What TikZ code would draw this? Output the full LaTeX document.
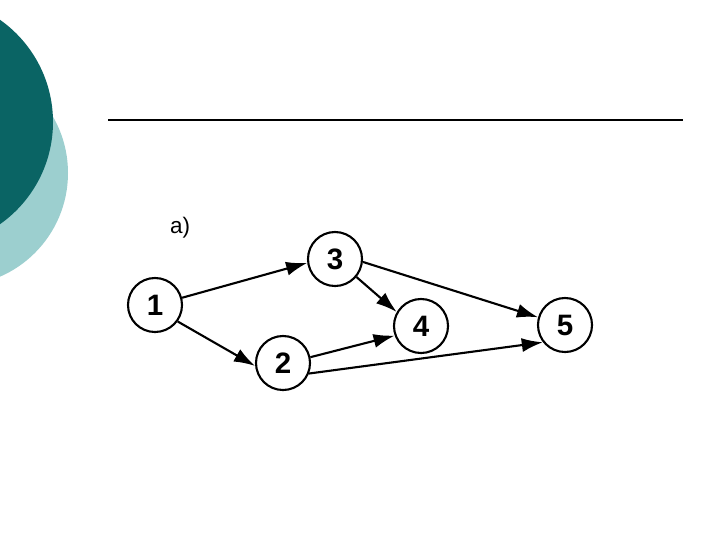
\documentclass[tikz,border=0pt]{standalone}
\usepackage{fontspec}
\setmainfont{Liberation Sans}
\usetikzlibrary{arrows.meta}
\begin{document}
\begin{tikzpicture}[x=0.025cm,y=-0.025cm,
    event/.style={circle,draw,line width=1.5pt,minimum size=1.35cm,inner sep=0pt,
      font=\fontsize{21}{24}\selectfont\bfseries},
    job/.style={line width=1.5pt,-{Latex[length=15pt,width=10pt]}}]
   \definecolor{darkteal}{HTML}{0A6464}
   \definecolor{lightteal}{HTML}{9CCFCF}
   \clip (0,0) rectangle (720,540);
   \fill [white] (0,0) rectangle (720,540);
   \fill [lightteal] (-45,173) circle (113);
   \fill [darkteal] (-72,122) circle (125);
   \draw [line width=0.8pt] (108,120) -- (683,120);
   \node [font=\fontsize{16}{18}\selectfont] (lbl) at (180,228) {a)};
   \node [event] (n1) at (155,305) {1};
   \node [event] (n3) at (335,259) {3};
   \node [event] (n2) at (283,363) {2};
   \node [event] (n4) at (421,326) {4};
   \node [event] (n5) at (565,325) {5};
   \draw [job] (n1.15) -- (n3.188);
   \draw [job] (n1.-36) -- (n2.186);
   \draw [job] (n3.-40) -- (n4.150);
   \draw [job] (n3.-6) -- (n5.164);
   \draw [job] (n2.12) -- (n4.200);
   \draw [job] (n2.-22) -- (n5.218);
\end{tikzpicture}
\end{document}
